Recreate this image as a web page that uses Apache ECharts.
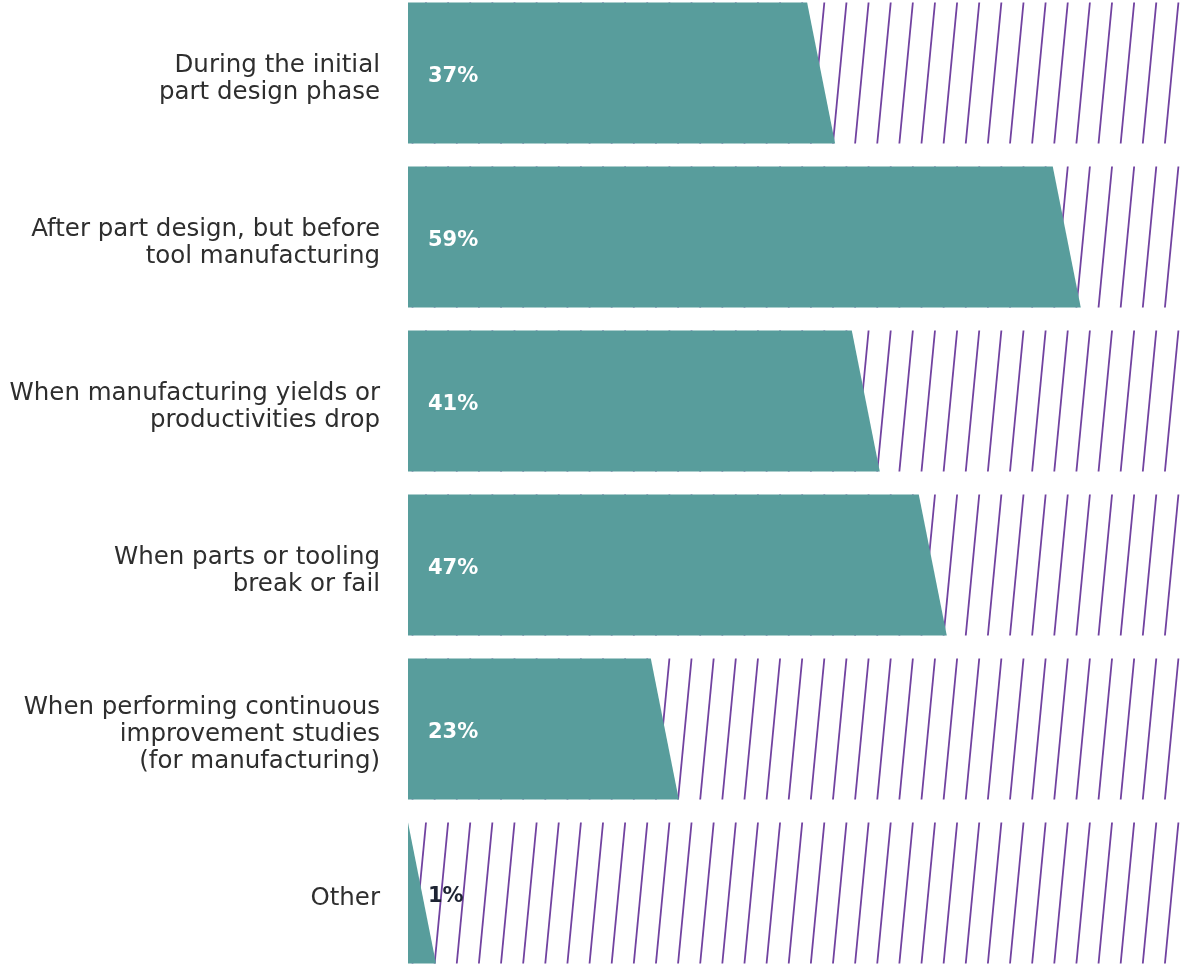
<!DOCTYPE html>
<html>
<head>
<meta charset="utf-8">
<script src="https://cdn.jsdelivr.net/npm/echarts@6/dist/echarts.min.js"></script>
<style>
  html, body { margin: 0; padding: 0; background: #ffffff; }
  #chart { width: 1184px; height: 966px; }
</style>
</head>
<body>
<div id="chart"></div>
<script>
const categories = [
  "During the initial\npart design phase",
  "After part design, but before\ntool manufacturing",
  "When manufacturing yields or\nproductivities drop",
  "When parts or tooling\nbreak or fail",
  "When performing continuous\nimprovement studies\n(for manufacturing)",
  "Other"
];
const values = [37, 59, 41, 47, 23, 1];
const valueLabels = ["37%", "59%", "41%", "47%", "23%", "1%"];
const X_MAX = 69.5;

const TEAL = '#589d9c';
const PURPLE = '#7142a0';

function renderItem(params, api) {
  const v = api.value(0);
  const cat = api.value(1);
  const idx = params.dataIndex;
  const c = api.coord([v, cat]);
  const x0 = api.coord([0, cat])[0];
  const x1 = api.coord([X_MAX, cat])[0];
  const band = api.size([0, 1])[1];
  const h = band * 0.86;
  const yTop = c[1] - h / 2;
  const yBot = c[1] + h / 2;
  const slant = 14;
  const children = [];

  // hatch lines filling the whole row
  const spacing = 22.13, lean = 13.5;
  for (let tx = x0 + 18 - spacing * 2; tx < x1 + lean + spacing; tx += spacing) {
    const ax = tx;
    let t0 = 0, t1 = 1;
    if (ax > x1) t0 = (ax - x1) / lean;
    if (ax - lean < x0) t1 = (ax - x0) / lean;
    if (t0 >= t1) continue;
    children.push({
      type: 'line',
      shape: {
        x1: ax - lean * t0, y1: yTop + (yBot - yTop) * t0,
        x2: ax - lean * t1, y2: yTop + (yBot - yTop) * t1
      },
      style: { stroke: PURPLE, lineWidth: 1.8 }
    });
  }

  // teal slanted bar
  const topX = Math.max(x0, c[0] - slant);
  const botX = Math.max(c[0] + slant, topX + 2 * slant);
  children.push({
    type: 'polygon',
    shape: { points: [[x0, yTop], [topX, yTop], [botX, yBot], [x0, yBot]] },
    style: { fill: TEAL }
  });

  // value label
  children.push({
    type: 'text',
    x: x0 + 20,
    y: c[1] + 4,
    style: {
      text: valueLabels[idx],
      fill: v < 5 ? '#1e2433' : '#ffffff',
      font: 'bold 21px "DejaVu Sans", sans-serif',
      align: 'left',
      verticalAlign: 'middle'
    }
  });

  return { type: 'group', children: children };
}

const chart = echarts.init(document.getElementById('chart'));
chart.setOption({
  animation: false,
  backgroundColor: '#ffffff',
  grid: { left: 408, right: 0, top: -9, bottom: -9, containLabel: false, outerBoundsMode: 'none' },
  xAxis: {
    type: 'value', min: 0, max: X_MAX,
    show: false
  },
  yAxis: {
    type: 'category',
    data: categories,
    inverse: true,
    axisLine: { show: false },
    axisTick: { show: false },
    splitLine: { show: false },
    axisLabel: {
      margin: 28,
      align: 'right',
      formatter: function (val) {
        return '{s| }\n' + val.split('\n').map(l => '{t|' + l + '}').join('\n');
      },
      rich: {
        s: { fontSize: 1, lineHeight: 12 },
        t: {
          color: '#2e2e2e',
          fontFamily: '"DejaVu Sans", sans-serif',
          fontSize: 24.5,
          lineHeight: 27,
          align: 'right'
        }
      }
    }
  },
  series: [{
    type: 'custom',
    renderItem: renderItem,
    encode: { x: 0, y: 1 },
    data: values.map((v, i) => [v, i])
  }]
});
</script>
</body>
</html>
